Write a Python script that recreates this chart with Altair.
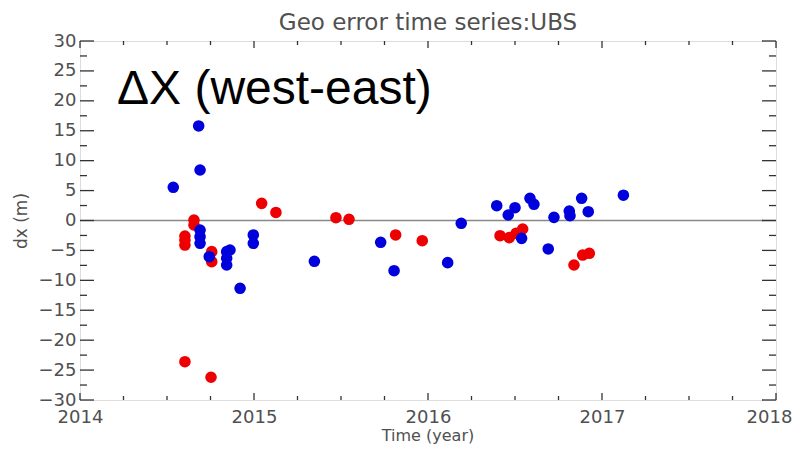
import altair as alt
import pandas as pd

# ---- data ----
blue_year = [2014.536, 2014.682, 2014.690, 2014.690, 2014.690, 2014.690, 2014.743,
             2014.843, 2014.843, 2014.843, 2014.862, 2014.920, 2014.996, 2014.996,
             2015.347, 2015.728, 2015.805, 2016.113, 2016.191, 2016.395, 2016.461,
             2016.500, 2016.586, 2016.609, 2016.724, 2016.812, 2016.816, 2016.883,
             2016.921, 2016.538, 2016.691, 2017.123]
blue_dx = [5.55, 15.8, 8.44, -1.59, -2.71, -3.81, -6.05,
           -5.21, -6.32, -7.44, -4.93, -11.33, -2.42, -3.81,
           -6.82, -3.64, -8.39, -7.05, -0.47, 2.47, 0.92,
           2.14, 3.71, 2.71, 0.53, 1.59, 0.80, 3.71,
           1.47, -2.98, -4.76, 4.23]

red_year = [2014.603, 2014.753, 2014.655, 2014.655, 2014.603, 2014.603, 2014.603,
            2014.757, 2014.757, 2015.044, 2015.126, 2015.471, 2015.546, 2015.814,
            2015.967, 2016.414, 2016.467, 2016.506, 2016.544, 2016.839, 2016.889,
            2016.927]
red_dx = [-23.6, -26.2, 0.08, -0.75, -2.6, -3.3, -4.1,
          -5.21, -6.89, 2.87, 1.34, 0.47, 0.20, -2.42,
          -3.38, -2.54, -2.87, -2.14, -1.42, -7.44, -5.77,
          -5.48]

x_major = [2014, 2015, 2016, 2017, 2018]
x_minor = [2014.25, 2014.5, 2014.75, 2015.25, 2015.5, 2015.75, 2016.25, 2016.5,
           2016.75, 2017.25, 2017.5, 2017.75]
y_major = [-30, -25, -20, -15, -10, -5, 0, 5, 10, 15, 20, 25, 30]
y_minor = [-27.5, -22.5, -17.5, -12.5, -7.5, -2.5, 2.5, 7.5, 12.5, 17.5, 22.5, 27.5]
zero_line = [0]
annotation = ["ΔX (west-east)"]
chart_title = ["Geo error time series:UBS"]
x_title = ["Time (year)"]

W, H = 696, 359
FONT = "DejaVu Sans"
GREY = "#505050"

xscale = alt.Scale(domain=[2014, 2018], nice=False, zero=False)
yscale = alt.Scale(domain=[-30, 30], nice=False, zero=False)

x_axis = alt.Axis(values=x_major, format="d", title=None,
                  tickSize=0, domain=False, grid=False,
                  labelFont=FONT, labelFontSize=18, labelColor=GREY,
                  labelPadding=8, labelFlush=False,
                  labelOffset={"condition": {"test": "datum.value >= 2018", "value": -7},
                               "value": 0})
y_axis = alt.Axis(values=y_major, title="dx (m)", tickSize=0,
                  domain=False, grid=False, labelFont=FONT,
                  labelFontSize=18, labelColor=GREY, labelPadding=4,
                  titleFont=FONT, titleFontSize=17, titleFontWeight="normal",
                  titleColor=GREY, titlePadding=8)


def X():
    return alt.X("year:Q", scale=xscale, axis=x_axis)


def Y():
    return alt.Y("dx:Q", scale=yscale, axis=y_axis)


blue_df = pd.DataFrame({"year": blue_year, "dx": blue_dx})
red_df = pd.DataFrame({"year": red_year, "dx": red_dx})

red_layer = alt.Chart(red_df).mark_circle(size=135, opacity=1, color="#ee0000").encode(x=X(), y=Y())
blue_layer = alt.Chart(blue_df).mark_circle(size=135, opacity=1, color="#0000dd").encode(x=X(), y=Y())

zero_layer = alt.Chart(pd.DataFrame({"dx": zero_line})).mark_rule(
    color="#888888", strokeWidth=1.5).encode(y=Y())


def ytick(vals, x0, x1):
    return alt.Chart(pd.DataFrame({"dx": vals})).mark_rule(color="#333333", strokeWidth=1.3).encode(
        y=Y(), x=alt.value(x0), x2=alt.value(x1))


def xtick(vals, y0, y1):
    return alt.Chart(pd.DataFrame({"year": vals})).mark_rule(color="#333333", strokeWidth=1.3).encode(
        x=X(), y=alt.value(y0), y2=alt.value(y1))


ticks = [
    ytick(y_major, 0, 14), ytick(y_minor, 0, 7),
    ytick(y_major, W - 14, W), ytick(y_minor, W - 7, W),
    xtick(x_major, H, H - 7), xtick(x_minor, H, H - 4),
    xtick(x_major, 0, 7), xtick(x_minor, 0, 4),
]

text_layer = alt.Chart(pd.DataFrame({"label": annotation})).mark_text(
    align="left", baseline="alphabetic", font="Liberation Sans", fontSize=48, color="black").encode(
    x=alt.value(37), y=alt.value(63), text="label:N")

title_layer = alt.Chart(pd.DataFrame({"label": chart_title})).mark_text(
    align="center", baseline="alphabetic", font=FONT, fontSize=23, color=GREY).encode(
    x=alt.value(W / 2), y=alt.value(-11), text="label:N")

xtitle_layer = alt.Chart(pd.DataFrame({"label": x_title})).mark_text(
    align="center", baseline="alphabetic", font=FONT, fontSize=16, color=GREY).encode(
    x=alt.value(W / 2), y=alt.value(H + 41), text="label:N")

chart = alt.layer(zero_layer, *ticks, red_layer, blue_layer, text_layer, title_layer,
                  xtitle_layer).properties(
    width=W, height=H,
    autosize=alt.AutoSizeParams(type="none"),
    padding={"left": 72, "top": 33, "right": 18, "bottom": 45},
).configure_view(stroke="#222222", strokeWidth=1.5).configure(background="white")

chart.save("out.html", embed_options={"renderer": "svg", "actions": False})
